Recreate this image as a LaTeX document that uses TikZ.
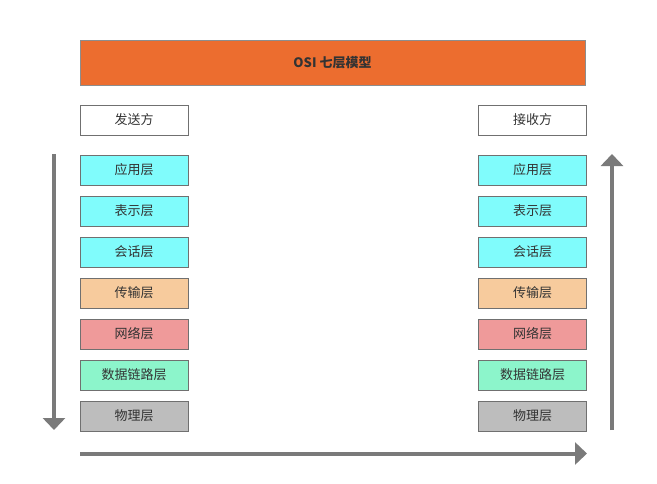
\documentclass[tikz,border=0pt]{standalone}
\usepackage{fontspec}
\newfontfamily\cjk{Noto Sans CJK SC}
\usepackage{tikz}
\usetikzlibrary{arrows.meta,positioning,calc}
\usepackage{xcolor}

\definecolor{titleorange}{HTML}{EC6D2F}
\definecolor{appcyan}{HTML}{80FCFC}
\definecolor{transtan}{HTML}{F7CB9D}
\definecolor{netpink}{HTML}{EF9A9A}
\definecolor{linkmint}{HTML}{8CF5CB}
\definecolor{physgray}{HTML}{BDBDBD}
\definecolor{boxedge}{HTML}{707070}
\definecolor{flowgray}{HTML}{7A7A7A}
\definecolor{txt}{HTML}{333333}

\tikzset{
	layerbox/.style={draw=boxedge, line width=0.8pt, minimum width=108pt, minimum height=30pt,
		inner sep=0pt, text=txt, font=\cjk\fontsize{13}{15}\selectfont},
	flow/.style={draw=flowgray, line width=4pt, -{Triangle[width=22pt,length=12pt]}}
}

\begin{document}
\begin{tikzpicture}[x=1pt, y=-1pt]

			\useasboundingbox (0,0) rectangle (657,483);
			\def\xL{134} \def\xR{532.5} % centres of the two columns
			\def\ytop{170} \def\ystep{41} % first layer and distance between layers

			% Title
			\node[layerbox, draw=boxedge!80, fill=titleorange, minimum width=505pt, minimum height=45pt,
				font=\cjk\bfseries\fontsize{13}{15}\selectfont] (title) at (332.5,62.5) {OSI 七层模型};

			% Sender and receiver
			\node[layerbox, fill=white] (sender) at (\xL,120) {发送方};
			\node[layerbox, fill=white] (receiver) at (\xR,120) {接收方};

			% the seven layers, on both sides
			\foreach \name/\col [count=\k] in {应用层/appcyan, 表示层/appcyan, 会话层/appcyan,
				传输层/transtan, 网络层/netpink, 数据链路层/linkmint, 物理层/physgray} {
				\pgfmathsetmacro{\yk}{\ytop + (\k-1) * \ystep}
				\node[layerbox, fill=\col] (l\k) at (\xL,\yk) {\name};
				\node[layerbox, fill=\col] (r\k) at (\xR,\yk) {\name};
			}

			% Data flow
			\coordinate (downstart) at (54,154);
			\coordinate (downend) at (54,430);
			\coordinate (upstart) at (612,430);
			\coordinate (upend) at (612,154);
			\coordinate (acrossstart) at (80,453.5);
			\coordinate (acrossend) at (587,453.5);
			\draw[flow] (downstart) -- (downend);
			\draw[flow] (acrossstart) -- (acrossend);
			\draw[flow] (upstart) -- (upend);
		\end{tikzpicture}
\end{document}
